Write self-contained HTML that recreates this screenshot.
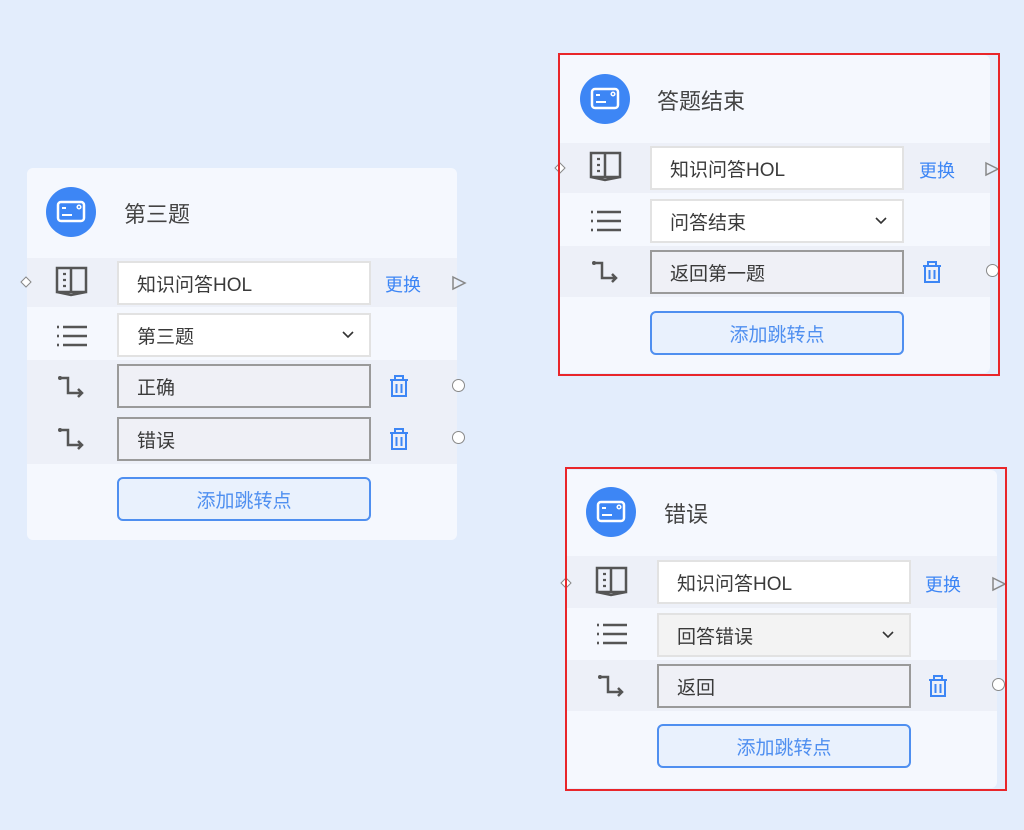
<!DOCTYPE html>
<html><head><meta charset="utf-8"><style>
*{box-sizing:border-box;margin:0;padding:0}
body{width:1024px;height:830px;background:#e3edfc;position:relative;overflow:hidden;font-family:"Liberation Sans","Noto Sans CJK SC",sans-serif;color:#333}
.card{position:absolute;width:430px;background:#f5f8fe;border-radius:6px}
.a{position:absolute}
.hc{left:19px;top:19px;width:50px;height:50px;border-radius:50%;background:#3d86f5}
.title{left:97px;top:29px;font-size:22px;color:#444}
.row{left:0;width:430px;background:#edf0f8}
.inp{left:90px;width:254px;height:44px;background:#fff;border:2px solid #e2e2e2;font-size:19px;display:flex;align-items:center;padding-left:18px;color:#3a3a3a}
.inp.g{background:#eff0f6;border-color:#9a9a9a}
.link{left:358px;font-size:18px;color:#3d86f5}
.btn{left:90px;width:254px;height:44px;border:2px solid #4f8ff0;border-radius:6px;background:#e9f1fd;color:#4f8ff0;font-size:19px;display:flex;align-items:center;justify-content:center}
.chev{position:absolute;right:14px;top:14px}
.red{position:absolute;border:2px solid #e9262a}
</style></head><body>

<!-- card 1 -->
<div class="card" style="left:27px;top:168px;height:372px">
 <div class="a hc"><svg width="50" height="50"><rect x="12" y="15" width="26" height="19" rx="3" fill="none" stroke="#fff" stroke-width="2.5"/><line x1="16" y1="21" x2="20" y2="21" stroke="#fff" stroke-width="2"/><line x1="16" y1="28" x2="26" y2="28" stroke="#fff" stroke-width="2"/><circle cx="33" cy="20" r="1.8" fill="none" stroke="#fff" stroke-width="1.5"/></svg></div>
 <div class="a title">第三题</div>
 <div class="a row" style="top:90px;height:49px"></div>
 <div class="a row" style="top:192px;height:104px"></div>
 <div class="a" style="left:27px;top:97px"><svg width="36" height="34"><path d="M3 3h14v24H3zM17 3h15v24H17M3 27l14 3 15-3" fill="none" stroke="#555" stroke-width="2.5"/><path d="M9 9h3M9 15h3M9 21h3" stroke="#555" stroke-width="2.2"/></svg></div>
 <div class="a" style="left:28px;top:156px"><svg width="34" height="26"><g stroke="#555" stroke-width="2.6"><line x1="2" y1="3" x2="4" y2="3"/><line x1="2" y1="12" x2="4" y2="12"/><line x1="2" y1="21" x2="4" y2="21"/><line x1="8" y1="3" x2="32" y2="3"/><line x1="8" y1="12" x2="32" y2="12"/><line x1="8" y1="21" x2="32" y2="21"/></g></svg></div>
 <div class="a" style="left:30px;top:206px"><svg width="30" height="26"><path d="M3 4h8v15h13M21 15l4 4-4 4" fill="none" stroke="#555" stroke-width="2.5"/><circle cx="3" cy="4" r="2" fill="#555"/></svg></div>
 <div class="a" style="left:30px;top:258px"><svg width="30" height="26"><path d="M3 4h8v15h13M21 15l4 4-4 4" fill="none" stroke="#555" stroke-width="2.5"/><circle cx="3" cy="4" r="2" fill="#555"/></svg></div>
 <div class="a inp" style="top:93px">知识问答HOL</div>
 <div class="a inp" style="top:145px">第三题<svg class="chev" width="14" height="12"><path d="M2 3l5 5 5-5" fill="none" stroke="#333" stroke-width="1.6"/></svg></div>
 <div class="a inp g" style="top:196px">正确</div>
 <div class="a inp g" style="top:249px">错误</div>
 <div class="a link" style="top:103px">更换</div>
 <div class="a" style="left:424px;top:107px"><svg width="16" height="16"><path d="M2 2l12 6-12 6z" fill="none" stroke="#888" stroke-width="1.5"/></svg></div>
 <div class="a" style="left:-7px;top:107px"><svg width="12" height="12"><path d="M6 1l5 5-5 5-5-5z" fill="#fff" stroke="#888"/></svg></div>
 <div class="a" style="left:360px;top:205px"><svg width="24" height="26"><path d="M3 7h18M8 7V3h8v4M5 7v16h14V7M9.5 11v9M14.5 11v9" fill="none" stroke="#3d86f5" stroke-width="2"/></svg></div>
 <div class="a" style="left:360px;top:258px"><svg width="24" height="26"><path d="M3 7h18M8 7V3h8v4M5 7v16h14V7M9.5 11v9M14.5 11v9" fill="none" stroke="#3d86f5" stroke-width="2"/></svg></div>
 <div class="a" style="left:425px;top:211px;width:13px;height:13px;border:1.5px solid #888;border-radius:50%;background:#fff"></div>
 <div class="a" style="left:425px;top:263px;width:13px;height:13px;border:1.5px solid #888;border-radius:50%;background:#fff"></div>
 <div class="a btn" style="top:309px">添加跳转点</div>
</div>

<!-- card 2 -->
<div class="card" style="left:560px;top:55px;height:318px;border-radius:0 6px 6px 0">
 <div class="a hc" style="left:20px"><svg width="50" height="50"><rect x="12" y="15" width="26" height="19" rx="3" fill="none" stroke="#fff" stroke-width="2.5"/><line x1="16" y1="21" x2="20" y2="21" stroke="#fff" stroke-width="2"/><line x1="16" y1="28" x2="26" y2="28" stroke="#fff" stroke-width="2"/><circle cx="33" cy="20" r="1.8" fill="none" stroke="#fff" stroke-width="1.5"/></svg></div>
 <div class="a title">答题结束</div>
 <div class="a row" style="top:88px;height:50px"></div>
 <div class="a row" style="top:191px;height:51px"></div>
 <div class="a" style="left:28px;top:95px"><svg width="36" height="34"><path d="M3 3h14v24H3zM17 3h15v24H17M3 27l14 3 15-3" fill="none" stroke="#555" stroke-width="2.5"/><path d="M9 9h3M9 15h3M9 21h3" stroke="#555" stroke-width="2.2"/></svg></div>
 <div class="a" style="left:29px;top:154px"><svg width="34" height="26"><g stroke="#555" stroke-width="2.6"><line x1="2" y1="3" x2="4" y2="3"/><line x1="2" y1="12" x2="4" y2="12"/><line x1="2" y1="21" x2="4" y2="21"/><line x1="8" y1="3" x2="32" y2="3"/><line x1="8" y1="12" x2="32" y2="12"/><line x1="8" y1="21" x2="32" y2="21"/></g></svg></div>
 <div class="a" style="left:31px;top:204px"><svg width="30" height="26"><path d="M3 4h8v15h13M21 15l4 4-4 4" fill="none" stroke="#555" stroke-width="2.5"/><circle cx="3" cy="4" r="2" fill="#555"/></svg></div>
 <div class="a inp" style="left:90px;top:91px">知识问答HOL</div>
 <div class="a inp" style="left:90px;top:144px">问答结束<svg class="chev" width="14" height="12"><path d="M2 3l5 5 5-5" fill="none" stroke="#333" stroke-width="1.6"/></svg></div>
 <div class="a inp g" style="left:90px;top:195px">返回第一题</div>
 <div class="a link" style="left:359px;top:102px">更换</div>
 <div class="a" style="left:424px;top:106px"><svg width="16" height="16"><path d="M2 2l12 6-12 6z" fill="none" stroke="#888" stroke-width="1.5"/></svg></div>
 <div class="a" style="left:-6px;top:106px"><svg width="12" height="12"><path d="M6 1l5 5-5 5-5-5z" fill="#fff" stroke="#888"/></svg></div>
 <div class="a" style="left:360px;top:204px"><svg width="24" height="26"><path d="M3 7h18M8 7V3h8v4M5 7v16h14V7M9.5 11v9M14.5 11v9" fill="none" stroke="#3d86f5" stroke-width="2"/></svg></div>
 <div class="a" style="left:426px;top:209px;width:13px;height:13px;border:1.5px solid #888;border-radius:50%;background:#fff"></div>
 <div class="a btn" style="top:256px">添加跳转点</div>
</div>
<div class="red" style="left:558px;top:53px;width:442px;height:323px"></div>

<!-- card 3 -->
<div class="card" style="left:567px;top:470px;height:318px;border-radius:0 6px 6px 0">
 <div class="a hc" style="left:19px;top:17px"><svg width="50" height="50"><rect x="12" y="15" width="26" height="19" rx="3" fill="none" stroke="#fff" stroke-width="2.5"/><line x1="16" y1="21" x2="20" y2="21" stroke="#fff" stroke-width="2"/><line x1="16" y1="28" x2="26" y2="28" stroke="#fff" stroke-width="2"/><circle cx="33" cy="20" r="1.8" fill="none" stroke="#fff" stroke-width="1.5"/></svg></div>
 <div class="a title" style="top:27px">错误</div>
 <div class="a row" style="top:86px;height:52px"></div>
 <div class="a row" style="top:190px;height:51px"></div>
 <div class="a" style="left:27px;top:95px"><svg width="36" height="34"><path d="M3 3h14v24H3zM17 3h15v24H17M3 27l14 3 15-3" fill="none" stroke="#555" stroke-width="2.5"/><path d="M9 9h3M9 15h3M9 21h3" stroke="#555" stroke-width="2.2"/></svg></div>
 <div class="a" style="left:28px;top:152px"><svg width="34" height="26"><g stroke="#555" stroke-width="2.6"><line x1="2" y1="3" x2="4" y2="3"/><line x1="2" y1="12" x2="4" y2="12"/><line x1="2" y1="21" x2="4" y2="21"/><line x1="8" y1="3" x2="32" y2="3"/><line x1="8" y1="12" x2="32" y2="12"/><line x1="8" y1="21" x2="32" y2="21"/></g></svg></div>
 <div class="a" style="left:30px;top:203px"><svg width="30" height="26"><path d="M3 4h8v15h13M21 15l4 4-4 4" fill="none" stroke="#555" stroke-width="2.5"/><circle cx="3" cy="4" r="2" fill="#555"/></svg></div>
 <div class="a inp" style="top:90px">知识问答HOL</div>
 <div class="a inp" style="top:143px;background:#f3f3f3">回答错误<svg class="chev" width="14" height="12"><path d="M2 3l5 5 5-5" fill="none" stroke="#333" stroke-width="1.6"/></svg></div>
 <div class="a inp g" style="top:194px">返回</div>
 <div class="a link" style="top:101px">更换</div>
 <div class="a" style="left:424px;top:106px"><svg width="16" height="16"><path d="M2 2l12 6-12 6z" fill="none" stroke="#888" stroke-width="1.5"/></svg></div>
 <div class="a" style="left:-7px;top:106px"><svg width="12" height="12"><path d="M6 1l5 5-5 5-5-5z" fill="#fff" stroke="#888"/></svg></div>
 <div class="a" style="left:359px;top:203px"><svg width="24" height="26"><path d="M3 7h18M8 7V3h8v4M5 7v16h14V7M9.5 11v9M14.5 11v9" fill="none" stroke="#3d86f5" stroke-width="2"/></svg></div>
 <div class="a" style="left:425px;top:208px;width:13px;height:13px;border:1.5px solid #888;border-radius:50%;background:#fff"></div>
 <div class="a btn" style="top:254px">添加跳转点</div>
</div>
<div class="red" style="left:565px;top:467px;width:442px;height:324px"></div>

</body></html>
